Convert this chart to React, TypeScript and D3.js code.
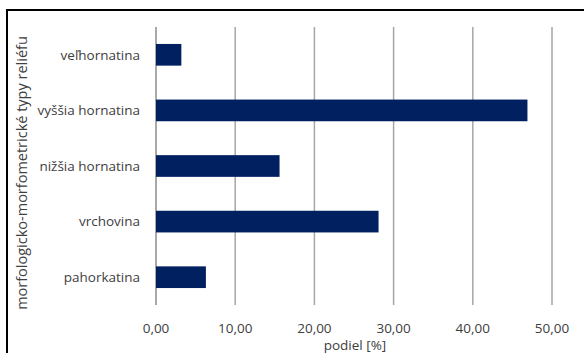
import React from "react";
import * as d3 from "d3";

const categories = ["veľhornatina", "vyššia hornatina", "nižšia hornatina", "vrchovina", "pahorkatina"];
const values = [3.2, 46.9, 15.6, 28.1, 6.3];
const ticks = [0, 10, 20, 30, 40, 50];
const xTitle = "podiel [%]";
const yTitle = "morfologicko-morfometrické typy reliéfu";

export default function App() {
  const W = 584, H = 353;
  const x = d3.scaleLinear().domain([0, 50]).range([156, 552]);
  const y = d3.scaleBand<string>().domain(categories).range([27, 305]).paddingInner(0.61).paddingOuter(0.305);
  const fmt = (v: number) => v.toFixed(2).replace(".", ",");
  const font = "'Open Sans', sans-serif";
  const fs = 13.5;
  return (
    <svg width={W} height={H} style={{ position: "absolute", left: 0, top: 0, background: "#fff" }}>
      <rect x={7} y={10} width={W + 10} height={H + 10} fill="#fff" stroke="#000" strokeWidth={2} />
      {ticks.map((t) => (
        <line key={t} x1={x(t)} x2={x(t)} y1={27} y2={305} stroke={t === 0 ? "#8c8c8c" : "#a6a6a6"} strokeWidth={1.5} />
      ))}
      {categories.map((c, i) => (
        <rect key={c} x={x(0)} y={y(c)} width={x(values[i]) - x(0)} height={y.bandwidth()} fill="#002060" />
      ))}
      {categories.map((c) => (
        <text key={c} x={140} y={(y(c) as number) + y.bandwidth() / 2} dy="0.35em" textAnchor="end"
          fontFamily={font} fontSize={fs} fill="#404040">{c}</text>
      ))}
      {ticks.map((t) => (
        <text key={t} x={x(t)} y={328} dy="0.35em" textAnchor="middle" fontFamily={font} fontSize={fs} fill="#404040">{fmt(t)}</text>
      ))}
      <text x={355} y={345} dy="0.35em" textAnchor="middle" fontFamily={font} fontSize={fs} fill="#404040">{xTitle}</text>
      <text transform={`translate(22,173) rotate(-90)`} dy="0.35em" textAnchor="middle" fontFamily={font} fontSize={14.5} fill="#404040">{yTitle}</text>
    </svg>
  );
}
